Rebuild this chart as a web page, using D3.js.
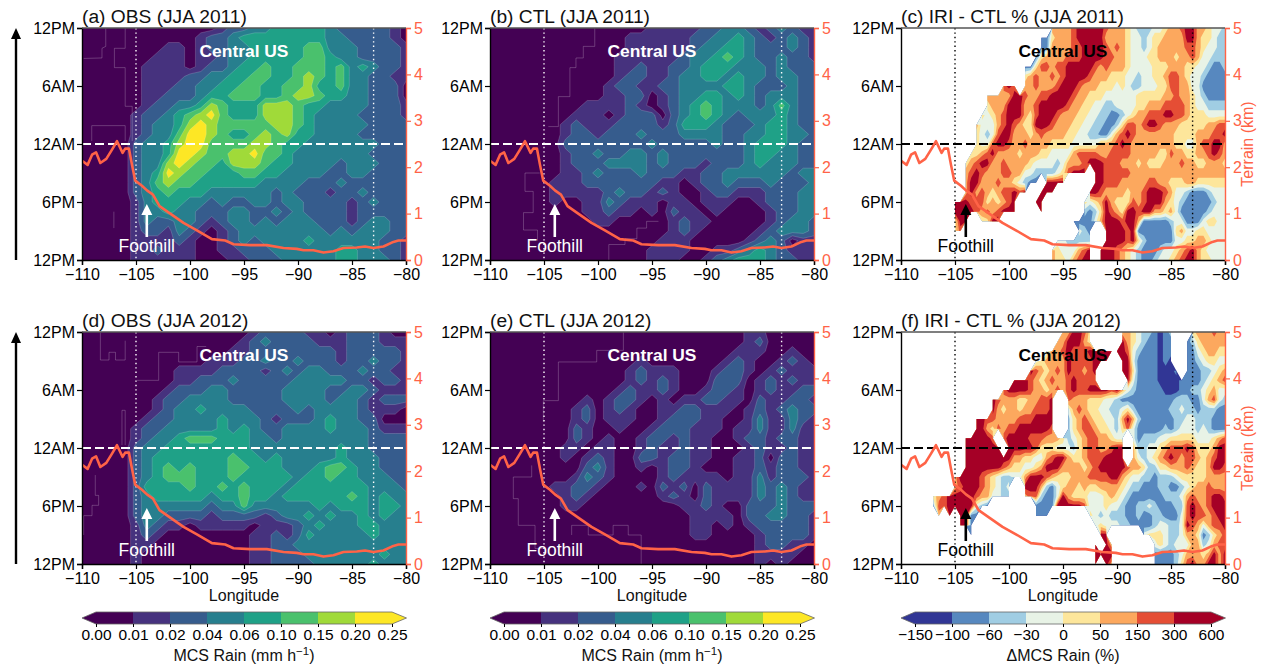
<!DOCTYPE html>
<html><head><meta charset="utf-8">
<script src="https://cdn.jsdelivr.net/npm/d3@7"></script>
<style>html,body{margin:0;background:#fff}svg{display:block;font-family:"Liberation Sans",Arial,sans-serif}</style>
</head><body><svg id="c" width="1267" height="667"></svg>
<script>
const lonTicks=[-110,-105,-100,-95,-90,-85,-80];
const hourTicks=[0,6,12,18,24];
const hourLabels=["12PM","6PM","12AM","6AM","12PM"];
const kmTicks=[0,1,2,3,4,5];
const rainTicks=["0.00","0.01","0.02","0.04","0.06","0.10","0.15","0.20","0.25"];
const diffTicks=["\u2212150","\u2212100","\u221260","\u221230","0","50","150","300","600"];
const rainColors=["#440154","#46327e","#365c8d","#277f8e","#1fa187","#4ac16d","#a0da39","#fde725"];
const diffColors=["#313695","#5788bf","#a0cde3","#e8f3e6","#fde69b","#fca85e","#e54e35","#a50026"];
const terrainLon=[-110,-109.48,-109.07,-108.7,-108.3,-107.75,-107.22,-106.76,-106.24,-106,-105.65,-105.37,-105.07,-104.45,-103.99,-103.43,-102.82,-101.83,-100.6,-99.36,-97.97,-96.74,-95.97,-94.43,-92.89,-91.34,-90.11,-89.49,-88.57,-87.64,-86.72,-85.79,-84.56,-83.79,-83.02,-82.09,-81.17,-80.7,-80];
const terrainKm=[2.14,2.05,2.27,2.32,2.09,2.18,2.38,2.56,2.31,2.4,2.4,2.05,1.71,1.6,1.5,1.41,1.16,1,.8,.64,.45,.42,.34,.32,.32,.26,.24,.21,.21,.16,.19,.26,.27,.29,.26,.29,.39,.42,.42];
// Rows run from the top of a panel (12PM) to the bottom, one per hour; columns run from 110W to 80W.
// Each digit is the colour-bar bin; "." is a blank cell.
const obs2011=[
"00000|00000|00012|23344|44432|22221|0","00000|00000|01223|44444|44433|22221|0","00000|00011|01223|34444|45533|32222|1",
"00000|00111|01123|34444|45543|32222|1","00000|01111|01223|44544|55545|34322|1","00000|01111|22334|45544|56545|33221|1",
"00000|01112|23344|55445|56445|33222|0","00000|01122|23445|55445|66544|33222|0","00000|01223|34654|44666|54433|33222|1",
"00000|12234|56754|44666|54333|32222|1","00000|12334|67655|55566|54333|33222|2","00000|12335|77654|45656|44333|32222|2",
"00000|23346|77555|56654|43333|33322|2","00000|23347|76556|67554|33333|33222|2","00000|23367|65546|66544|33332|33322|2",
"00000|23476|55444|55443|33322|33222|2","00000|23565|54444|44333|32223|22222|2","00000|23454|44333|33323|22212|23222|2",
"00000|13444|33232|23323|32222|12322|2","00000|13343|32223|32232|32222|12222|2","00000|13223|32123|32323|33222|12332|2",
"00000|12213|21012|33333|33323|23332|2","00000|11112|10012|32333|34333|33322|1","00000|11211|10011|22233|33334|43322|1",
"00000|11111|10001|12223|33334|43332|1"];
const ctl2011=[
"00000|00000|00000|11111|22332|12321|1","00000|00000|00011|11112|23343|21232|1","00000|00000|00011|11112|33443|22232|1",
"00000|00000|00111|11123|34543|22322|1","00000|00000|00112|11223|44433|32322|2","00000|00000|00122|11233|44343|32332|2",
"00000|00000|01221|12233|33443|22232|2","00000|00000|01122|01233|44343|23332|2","00000|00001|11121|01234|54333|23532|2",
"00000|00011|10122|20234|54323|33432|2","00000|00121|11222|21244|43222|34432|2","00000|00122|12223|22233|33223|34433|2",
"00000|00222|22222|32222|23223|44432|2","00000|00122|32233|23222|22223|44332|2","00000|00122|23333|23222|12223|43332|2",
"00000|00112|32223|22211|22333|33323|3","00000|01112|22222|21101|22322|23222|3","00000|01111|12322|12100|12211|12223|3",
"00000|01001|13211|10110|11100|12223|3","00000|00001|12110|10211|01000|01223|3","00000|00000|11000|00121|10000|01233|2",
"00000|00000|00000|00121|00000|12333|2","00000|00000|00000|01110|00001|23201|1","00000|00000|00000|11110|01123|43211|1",
"00000|00000|00000|11100|12344|43221|1"];
const iri2011=[
"..........|..........|........55|5567777765|5543222334|5567755433|2",
"..........|..........|......1145|5567777755|5543323445|5557754432|2",
"..........|..........|......1155|5566777765|6543323455|5556654332|2",
"..........|.........6|.....14555|5666777766|5543334455|5455653322|2",
"..........|.........4|...1146656|6777776565|5543333444|5554433211|2",
"..........|..........|...4565565|6777765554|4433233445|6654332111|1",
"..........|.........6|76.5565556|7776555444|3432233344|6655331111|1",
"..........|......5555|5776556677|7765544433|3333444445|5655432111|1",
"..........|......4555|7775567777|7655443322|3333445556|6665433222|2",
"..........|.....43456|7775467776|5554433221|1234556667|7665444333|3",
"..........|....533356|7654477765|5544332211|2466567765|5544444556|6",
"..........|....432367|7555456555|5443322113|5676555555|5444455566|7",
"..........|....433677|6556555544|4433333555|6765555555|5443356677|5",
"..........|...4456755|5545554433|3356666556|6665555544|6554455676|5",
"..........|..45677556|5555433332|3555677766|6555454445|5565544555|4",
"..........|..56765556|6553322223|46777.7766|6665555555|5555555555|5",
"........4.|..57755565|543211.777|7.....7766|6555556655|4445544444|4",
"..........|..57565456|6767..777.|.....77655|5545567776|5332111233|3",
"..........|7776664545|67...77...|....434575|4446567775|4321111123|3",
"..........|7777656567|77.7..7...|....212476|5477677554|5311111233|3",
"..........|477..4477.|..........|..51113577|7677511111|2331113443|3",
"..........|46........|.....7....|...321..77|7767111111|1453344333|3",
"..........|..........|.........3|322222..77|7767421111|1334455433|3",
"..........|..........|........54|333567.777|6543211123|3456754333|3",
"..........|..........|........54|435677.777|6543211233|4567754433|3"];
const obs2012=[
"00000|00000|00000|01222|21101|22210|0","00000|00000|00000|12322|22111|22211|1","00000|00000|00001|12222|22221|22222|1",
"00000|00000|00111|22322|32221|22322|1","00000|00001|11122|22123|23322|23221|1","00000|00001|12223|22222|33333|22122|1",
"00000|00012|22332|22223|33322|33211|1","00000|00122|33332|22223|33323|32122|2","00000|00123|34333|32222|32333|32111|0",
"00000|01223|33343|33212|22343|32200|0","00000|12233|33343|43223|33343|33211|1","00000|12334|55544|43323|33333|33222|2",
"00000|23344|44444|43333|33334|33222|2","00000|23444|44445|44343|33334|33322|2","00000|23454|54445|54443|33455|43322|2",
"00000|23455|54445|44444|34454|43332|2","00000|24444|54454|54443|44444|44333|2","00000|23444|44344|54434|44444|54343|3",
"00000|23333|33233|53333|33434|44344|3","00000|23322|22122|22123|34343|34343|3","00000|13211|01111|10111|23433|34433|3",
"00000|12100|00000|01121|24333|33433|3","00000|11000|00000|01122|33333|33333|3","00000|10000|00000|01122|23333|33343|3",
"00000|10000|00000|01122|22333|33433|3"];
const ctl2012=[
"00000|00000|00000|00000|00001|10000|0","00000|00000|00000|00000|00001|20000|0","00000|00000|00000|00000|00011|10010|0",
"00000|00000|00001|00000|00121|00121|0","00000|00000|00012|11100|01221|01211|1","00000|00000|00012|12100|02220|12121|1",
"00000|00000|00121|12100|12210|12112|2","00000|00001|01221|01011|22110|21122|1","00000|00012|01210|01122|11101|21232|2",
"00000|00012|01110|01222|11001|31132|1","00000|00021|00100|12221|11011|31131|1","00000|00021|01001|22121|10012|21221|1",
"00000|00110|11001|21121|10001|21121|1","00000|00101|21002|21221|10011|20221|1","00000|00002|31001|01221|00011|21221|1",
"00000|00013|21000|01211|11011|31222|1","00000|01122|10001|02120|21111|32321|1","00000|00121|00000|01210|21111|32321|1",
"00000|00110|00000|00011|21002|22322|2","00000|00000|00000|00001|11102|23322|1","00000|00000|00000|00001|10101|22222|1",
"00000|00000|00000|00001|10000|12222|1","00000|00000|00000|00000|00000|12211|0","00000|00000|00000|00000|00000|11110|0",
"00000|00000|00000|00000|00000|10100|0"];
const iri2012=[
"..........|..........|..........|557764....|.554322101|2...455565|5",
"..........|..........|.........5|577754....|.754321101|1..1245555|5",
"..........|..........|.......355|6766677777|7763211101|1..1134554|4",
"..........|..........|.....34555|576666777.|.773111101|0..1123443|3",
"..........|..........|....765456|5766567...|.774111100|01.1112234|5",
"..........|..........|.777654565|5676666...|..73111100|0011112345|6",
"..........|.........6|7777655456|5676677776|7532111110|0011223453|3",
"..........|..7....765|554455667.|.655544433|2111111111|1222113563|2",
"..........|..7....754|554556667.|.356544332|2342111111|2232212221|1",
"..........|....776655|556667777.|.245654433|2575211111|1223322211|1",
"..........|....775465|667777776.|.245665443|2463111112|1233323211|1",
"..........|..777776.6|7777666555|4234566554|33.3122233|4444433345|6",
"..........|..7777777.|7777764443|3324566556|77.5223345|6667644457|7",
"..........|..77777777|7554433567|7544566677|77.5323456|7656654567|7",
"..........|..77777776|5443345777|5555456777|7765542244|5556544577|6",
"..........|5777765432|2335777654|4455566667|7543322122|2344444555|5",
"..........|5677765432|3..7775213|4554544555|5432211122|1123455655|5",
"......4567|7777655332|2..5662113|7544433345|4321111112|2235655677|6",
"......2667|7777321...|.77..11117|7777633343|3211223211|1226765677|7",
".......5.7|.7711.....|.....111..|.....43232|2211211221|1136766567|7",
"........7.|.771......|.3........|......3433|3221111233|2237653566|7",
"..........|...1......|..........|.......77.|.....34443|2235541245|6",
"..........|..........|..........|......7.75|.......343|2333552356|6",
"..........|..........|..........|......7777|.......111|1235554575|7",
"..........|..........|..........|..57..7.75|..5..5.111|1246755775|7"];
// Faint stepped outlines in the dark part of the rain panels: [longitude, hour above 12PM]
const faintObs2011=[
 [[-107.8,24],[-107.8,22.1],[-108.15,21.9],[-108.15,20.9],[-109.85,20.85]],
 [[-106,24],[-106,21.9],[-107,21.9],[-107,19.9],[-106,19.9],[-106,15.9],[-105.35,15.9],[-105.35,12.3]],
 [[-109.1,12.3],[-109.1,13.9],[-106,13.9],[-106,12.3]],[[-107.05,5],[-107.05,3.3]]];
const faintCtl2011=[
 [[-104.6,13.8],[-103.67,13.8],[-103.67,16.9],[-102.6,16.9],[-102.6,19.9],[-102.04,19.9],[-102.04,20.9],[-101.36,20.9],[-101.36,22.1],[-100.3,22.1],[-100.3,24]],
 [[-105.4,9],[-106.76,9],[-106.76,7.1],[-106,7.1],[-106,4.9],[-106.9,4.9],[-106.9,3.1],[-105.6,3.1],[-105.6,2]],
 [[-99,0],[-99,1.6],[-97.5,1.6],[-97.5,2.2],[-96.4,2.2],[-96.4,3.3],[-95.5,3.3],[-95.5,4],[-94.4,4]]];
const faintObs2012=[
 [[-108.3,24],[-108.3,21.1],[-107.5,21.1],[-107.5,21.9],[-106.9,21.9],[-106.9,21.1],[-106,21.1],[-106,23.1]],
 [[-104.9,19],[-102.9,19],[-102.9,21.9],[-101.05,21.9],[-101.05,20.9],[-99.35,20.9],[-99.35,22.5],[-98.5,22.5]],
 [[-106.3,12.3],[-106.3,15.9],[-106,15.9],[-106,12.3]],
 [[-108.77,9.2],[-108.77,7.1],[-108.46,7.1],[-108.46,6.07],[-109.07,6.07],[-109.07,5],[-109.85,5],[-109.85,3]]];
const faintCtl2012=[
 [[-105.06,14.7],[-105.06,16.9],[-103.67,16.9],[-103.67,20.9],[-100.12,20.9],[-100.12,22.1],[-97.65,22.1],[-97.65,24]],
 [[-106.14,10.2],[-106.14,9],[-107.84,9],[-107.84,6.76],[-107.38,6.76],[-107.38,4],[-105.83,4],[-105.83,1.6],[-105,1.6]],
 [[-102.44,3],[-102.44,4],[-100.9,4],[-100.9,3],[-98.6,3],[-98.6,4],[-97.2,4],[-97.2,3],[-96,3],[-96,0]]];

const panels=[
 {id:"a",title:"(a) OBS (JJA 2011)",rows:obs2011,faint:faintObs2011,kind:"rain",x0:82,y0:28},
 {id:"b",title:"(b) CTL (JJA 2011)",rows:ctl2011,faint:faintCtl2011,kind:"rain",x0:490,y0:28},
 {id:"c",title:"(c) IRI - CTL % (JJA 2011)",rows:iri2011,faint:[],kind:"diff",x0:901,y0:28},
 {id:"d",title:"(d) OBS (JJA 2012)",rows:obs2012,faint:faintObs2012,kind:"rain",x0:82,y0:332},
 {id:"e",title:"(e) CTL (JJA 2012)",rows:ctl2012,faint:faintCtl2012,kind:"rain",x0:490,y0:332},
 {id:"f",title:"(f) IRI - CTL % (JJA 2012)",rows:iri2012,faint:[],kind:"diff",x0:901,y0:332}];
const W=324,H=232,TERR="#ff6347";
const svg=d3.select("#c");
const defs=svg.append("defs");
const tf=s=>String(s).replace("-","\u2212");

panels.forEach((p,pi)=>{
  const g=svg.append("g").attr("transform",`translate(${p.x0},${p.y0})`);
  const x=d3.scaleLinear([-110,-80],[0,W]);
  const y=d3.scaleLinear([0,24],[H,0]);
  const km=d3.scaleLinear([0,5],[H,0]);
  const colors=p.kind==="rain"?rainColors:diffColors;
  const clean=p.rows.map(r=>r.replace(/\|/g,""));
  const nx=clean[0].length,ny=clean.length;
  const vals=[];
  clean.forEach(r=>{for(let i=0;i<nx;i++){const c=r[i];vals.push(c==="."||c===undefined?NaN:+c+.5);}});
  const dLon=30/(nx-1);
  const proj=d3.geoTransform({point(px,py){this.stream.point(x(-110+(px-.5)*dLon),y(24-(py-.5)));}});
  const path=d3.geoPath(proj);
  const contours=d3.contours().size([nx,ny]).thresholds(d3.range(colors.length))(vals);
  defs.append("clipPath").attr("id","clip"+p.id).append("rect").attr("width",W).attr("height",H);
  const field=g.append("g").attr("clip-path",`url(#clip${p.id})`);
  field.selectAll("path.band").data(contours).join("path").attr("class","band")
    .attr("d",path).attr("fill",d=>colors[d.value])
    .attr("stroke",d=>p.kind==="rain"&&d.value>0?"rgba(255,255,255,.28)":"none")
    .attr("stroke-width",.6);
  const faintLine=d3.line().x(d=>x(d[0])).y(d=>y(d[1]));
  field.selectAll("path.faint").data(p.faint).join("path").attr("class","faint")
    .attr("d",faintLine).attr("fill","none").attr("stroke","rgba(255,255,255,.28)").attr("stroke-width",.8);

  const fg=p.kind==="rain"?"#fff":"#000";
  [-105,-83].forEach(l=>g.append("line").attr("x1",x(l)).attr("x2",x(l)).attr("y1",0).attr("y2",H)
     .attr("stroke",fg).attr("stroke-width",1.4).attr("stroke-dasharray","1.4,3"));
  g.append("line").attr("x1",0).attr("x2",W).attr("y1",y(12)).attr("y2",y(12))
     .attr("stroke",fg).attr("stroke-width",2).attr("stroke-dasharray","9,4");
  g.append("path").datum(terrainLon.map((l,i)=>[l,terrainKm[i]]))
    .attr("clip-path",`url(#clip${p.id})`)
    .attr("d",d3.line().x(d=>x(d[0])).y(d=>km(d[1])))
    .attr("fill","none").attr("stroke",TERR).attr("stroke-width",2.6).attr("stroke-linejoin","round");
  const ax=x(-104);
  g.append("line").attr("x1",ax).attr("x2",ax).attr("y1",y(12)+93).attr("y2",y(12)+68).attr("stroke",fg).attr("stroke-width",2.6);
  g.append("path").attr("d",`M${ax},${y(12)+60}l5.5,11h-11z`).attr("fill",fg);
  g.append("text").attr("x",ax).attr("y",y(12)+108).attr("text-anchor","middle").attr("font-size",17.5).attr("fill",fg).text("Foothill");
  g.append("text").attr("x",W/2).attr("y",29).attr("text-anchor","middle").attr("font-size",17.4).attr("font-weight","bold").attr("fill",fg).text("Central US");
  const bottom=g.append("g").attr("transform",`translate(0,${H})`).call(d3.axisBottom(x).tickValues(lonTicks).tickSizeOuter(0).tickSize(5).tickPadding(4).tickFormat(tf));
  const left=g.append("g").call(d3.axisLeft(y).tickValues(hourTicks).tickSizeOuter(0).tickSize(5).tickPadding(2).tickFormat((d,i)=>hourLabels[i]));
  const right=g.append("g").attr("transform",`translate(${W},0)`).call(d3.axisRight(km).tickValues(kmTicks).tickFormat(d3.format("d")).tickSizeOuter(0).tickSize(5).tickPadding(3));
  [bottom,left,right].forEach(a=>{a.attr("font-family",null).attr("font-size",16);a.select(".domain").attr("stroke-width",1.4);a.selectAll(".tick line").attr("stroke-width",1.2)});
  right.selectAll("text").attr("fill",TERR);right.selectAll("line").attr("stroke",TERR);right.select(".domain").attr("stroke",TERR);
  g.append("line").attr("x1",0).attr("x2",W).attr("y1",0).attr("y2",0).attr("stroke","#555").attr("stroke-width",1.4);
  g.append("text").attr("x",0).attr("y",-5).attr("font-size",19.2).attr("fill","#111").text(p.title);
  if(p.kind==="diff") g.append("text").attr("transform",`translate(${W+28},${H/2}) rotate(-90)`).attr("text-anchor","middle").attr("font-size",16).attr("fill",TERR).text("Terrain (km)");
  if(pi>=3) g.append("text").attr("x",W/2).attr("y",H+37).attr("text-anchor","middle").attr("font-size",16).attr("fill","#111").text("Longitude");
  if(p.id==="a"||p.id==="d"){
    svg.append("line").attr("x1",16).attr("x2",16).attr("y1",p.y0+H).attr("y2",p.y0+8).attr("stroke","#000").attr("stroke-width",2.4);
    svg.append("path").attr("d",`M16,${p.y0}l5,11h-10z`).attr("fill","#000");
  }
  if(pi>=3){
    const ticks=p.kind==="rain"?rainTicks:diffTicks;
    const cb=svg.append("g").attr("transform",`translate(${p.x0},612)`);
    const cx=d3.scalePoint(ticks,[14,310]);
    const h=12;
    cb.selectAll("rect").data(colors).join("rect").attr("x",(d,i)=>cx(ticks[i])).attr("y",0)
      .attr("width",cx.step()).attr("height",h).attr("fill",d=>d);
    cb.append("path").attr("d",`M14,0L0,${h/2}L14,${h}z`).attr("fill",colors[0]);
    cb.append("path").attr("d",`M310,0L324.5,${h/2}L310,${h}z`).attr("fill",colors[colors.length-1]);
    cb.append("path").attr("d",`M14,0L0,${h/2}L14,${h}H310L324.5,${h/2}L310,0z`).attr("fill","none").attr("stroke","#666").attr("stroke-width",.8);
    const ca=cb.append("g").attr("transform",`translate(0,${h})`).call(d3.axisBottom(cx).tickSizeOuter(0).tickSize(3).tickPadding(2));
    ca.select(".domain").remove();ca.attr("font-family",null).attr("font-size",15.5);
    const lab=cb.append("text").attr("x",W/2).attr("y",48.5).attr("text-anchor","middle").attr("font-size",16).attr("fill","#111");
    if(p.kind==="rain"){lab.append("tspan").text("MCS Rain (mm h");lab.append("tspan").attr("dy",-6).attr("font-size",11.5).text("\u22121");lab.append("tspan").attr("dy",6).text(")");}
    else lab.text("\u0394MCS Rain (%)");
  }
});
</script></body></html>
